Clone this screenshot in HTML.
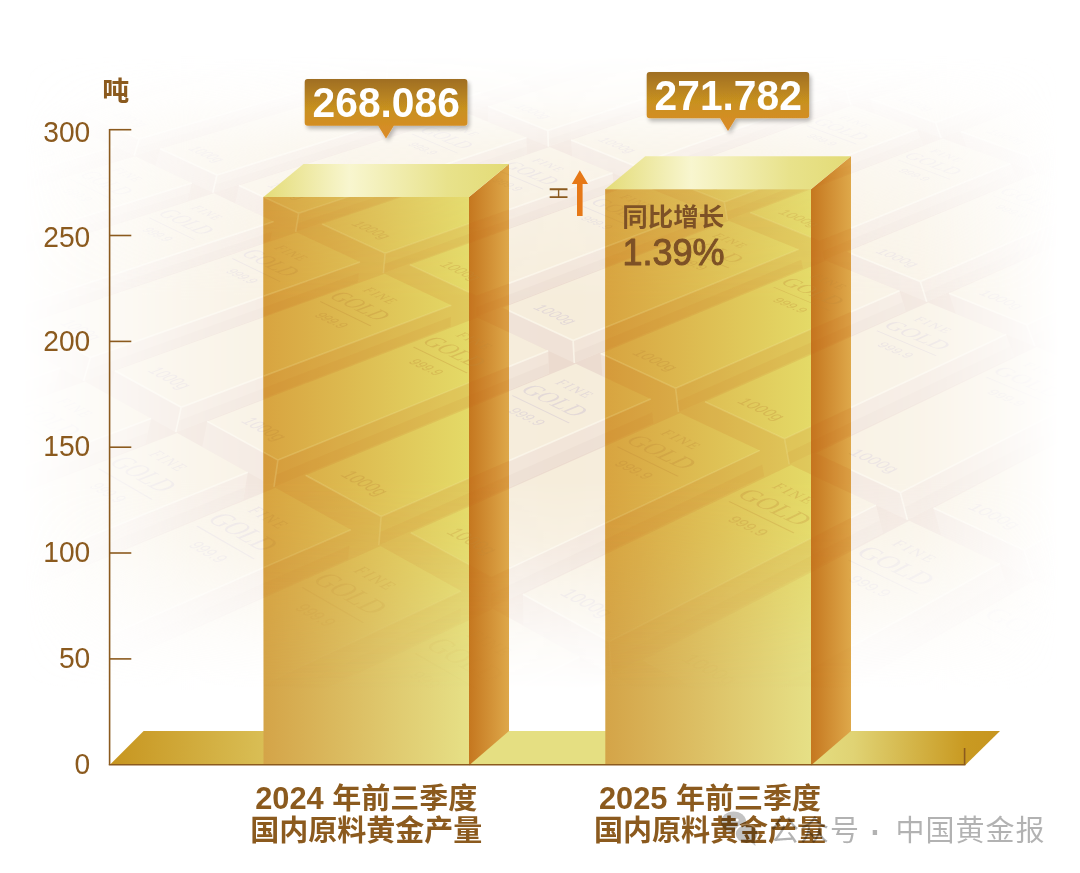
<!DOCTYPE html>
<html lang="zh-CN">
<head>
<meta charset="utf-8">
<title>国内原料黄金产量</title>
<style>
html,body{margin:0;padding:0;background:#fff;}
body{width:1080px;height:873px;overflow:hidden;}
svg{display:block;}
text{font-family:"Liberation Sans", "Noto Sans CJK SC", sans-serif;}
.b{font-weight:700;}
.sf{font-family:"Liberation Serif", serif;}
</style>
</head>
<body>
<svg width="1080" height="873" viewBox="0 0 1080 873">
<defs>
<linearGradient id="gFront" x1="0" y1="0" x2="1" y2="0">
<stop offset="0" stop-color="#d4a448"/><stop offset="1" stop-color="#e6e086"/>
</linearGradient>
<linearGradient id="gFrontM" x1="0" y1="0" x2="1" y2="0">
<stop offset="0" stop-color="#d8a440"/><stop offset="1" stop-color="#e4da67"/>
</linearGradient>
<linearGradient id="gSide" x1="0" y1="0" x2="1" y2="0">
<stop offset="0" stop-color="#c5771f"/><stop offset="1" stop-color="#dea84a"/>
</linearGradient>
<linearGradient id="gTop" x1="0" y1="0" x2="1" y2="0">
<stop offset="0" stop-color="#e4dc78"/><stop offset="0.35" stop-color="#f8f6cf"/><stop offset="0.75" stop-color="#e8e28b"/><stop offset="1" stop-color="#e3db76"/>
</linearGradient>
<linearGradient id="gFloor" gradientUnits="userSpaceOnUse" x1="110" y1="740" x2="1000" y2="756">
<stop offset="0" stop-color="#c7951f"/><stop offset="0.173" stop-color="#d9be55"/><stop offset="0.33" stop-color="#e5df82"/><stop offset="0.78" stop-color="#e5df82"/><stop offset="0.835" stop-color="#e0d374"/><stop offset="0.96" stop-color="#c99a22"/><stop offset="1" stop-color="#c7951f"/>
</linearGradient>
<linearGradient id="gTag" x1="0" y1="0" x2="0" y2="1">
<stop offset="0" stop-color="#9f6e22"/><stop offset="0.5" stop-color="#c8911f"/><stop offset="1" stop-color="#dc8b29"/>
</linearGradient>
<filter id="sh" x="-20%" y="-20%" width="140%" height="160%">
<feGaussianBlur in="SourceAlpha" stdDeviation="2.2"/>
<feOffset dx="1.5" dy="2.5" result="o"/>
<feComponentTransfer><feFuncA type="linear" slope="0.27"/></feComponentTransfer>
<feMerge><feMergeNode/><feMergeNode in="SourceGraphic"/></feMerge>
</filter>
<g id="phSides"><polygon points="-434.0,871.6 -17.6,690.2 -28.4,726.2 -455.6,916.0"/><polygon points="-329.8,963.5 91.4,765.1 82.6,804.1 -349.9,1012.1"/><polygon points="-347.0,427.4 -24.8,320.5 -33.4,342.8 -362.1,453.7"/><polygon points="-264.5,482.9 60.5,368.0 53.1,391.8 -278.5,511.0"/><polygon points="-176.3,542.2 151.2,418.5 145.2,443.9 -189.1,572.4"/><polygon points="-81.8,605.7 247.8,472.3 243.3,499.5 -93.2,638.3"/><polygon points="19.8,673.9 350.9,529.7 348.2,558.9 9.9,709.2"/><polygon points="129.1,747.4 461.2,591.0 460.4,622.4 121.2,785.6"/><polygon points="247.1,826.7 579.4,656.8 580.9,690.7 241.5,868.2"/><polygon points="375.0,912.7 706.4,727.5 710.6,764.1 372.1,957.9"/><polygon points="-292.3,148.0 -29.5,78.6 -36.7,93.8 -303.7,165.3"/><polygon points="-224.0,185.4 40.6,111.6 34.2,127.6 -234.8,203.7"/><polygon points="-151.9,224.9 114.3,146.4 108.8,163.2 -161.9,244.2"/><polygon points="-75.8,266.5 191.9,182.9 187.4,200.8 -84.8,287.2"/><polygon points="4.9,310.7 273.7,221.5 270.3,240.4 -3.1,332.6"/><polygon points="90.4,357.5 360.1,262.1 358.0,282.2 83.6,380.9"/><polygon points="181.2,407.2 451.4,305.2 450.7,326.5 175.8,432.2"/><polygon points="277.9,460.1 548.2,350.7 549.0,373.4 274.0,486.9"/><polygon points="381.1,516.5 650.8,399.0 653.3,423.3 378.9,545.2"/><polygon points="491.3,576.9 759.9,450.4 764.3,476.3 491.1,607.7"/><polygon points="609.3,641.5 876.0,505.1 882.7,532.8 611.5,674.7"/><polygon points="736.1,710.9 999.9,563.5 1009.1,593.2 740.9,746.7"/><polygon points="872.6,785.6 1132.4,625.8 1144.5,657.9 880.5,824.4"/><polygon points="1020.0,866.2 1274.4,692.7 1289.7,727.2 1031.5,908.5"/><polygon points="1179.6,953.6 1426.9,764.6 1446.0,801.9 1195.3,999.6"/><polygon points="-71.8,41.0 153.6,-15.5 149.3,-2.9 -79.2,55.2"/><polygon points="-4.9,72.1 221.4,12.3 217.9,25.6 -11.6,87.1"/><polygon points="65.3,104.7 292.3,41.5 289.6,55.4 59.4,120.5"/><polygon points="139.2,139.0 366.6,72.0 364.9,86.6 134.1,155.7"/><polygon points="216.9,175.1 444.6,104.0 443.9,119.4 212.8,192.7"/><polygon points="298.7,213.2 526.5,137.6 526.8,153.9 295.7,231.8"/><polygon points="385.1,253.3 612.6,172.9 614.1,190.1 383.4,273.1"/><polygon points="476.4,295.7 703.2,210.1 706.1,228.3 476.1,316.7"/><polygon points="573.1,340.6 798.7,249.3 803.1,268.6 574.3,363.0"/><polygon points="675.6,388.2 899.5,290.7 905.6,311.2 678.5,412.1"/><polygon points="784.5,438.8 1006.2,334.4 1014.1,356.2 789.3,464.3"/><polygon points="900.3,492.6 1119.1,380.8 1129.1,404.0 907.4,519.9"/><polygon points="1023.9,550.0 1238.8,429.9 1251.2,454.6 1033.5,579.3"/><polygon points="1155.9,611.4 1366.1,482.2 1381.0,508.6 1168.3,642.8"/><polygon points="388.0,65.7 584.6,7.7 585.6,20.6 386.5,80.1"/><polygon points="466.0,97.3 662.1,36.0 664.1,49.5 465.5,112.6"/><polygon points="547.8,130.5 743.2,65.7 746.3,79.9 548.4,146.6"/><polygon points="633.8,165.4 828.2,96.7 832.4,111.6 635.7,182.4"/><polygon points="724.3,202.1 917.3,129.2 922.9,145.0 727.5,220.1"/><polygon points="819.7,240.8 1010.8,163.4 1017.8,180.1 824.4,259.8"/><polygon points="920.3,281.6 1109.2,199.4 1117.8,216.9 926.7,301.8"/><polygon points="1026.7,324.8 1212.7,237.2 1223.0,255.8 1034.9,346.2"/><polygon points="1139.2,370.5 1321.9,277.0 1334.1,296.7 1149.5,393.3"/><polygon points="761.6,59.5 931.1,3.3 936.2,15.8 764.9,73.6"/><polygon points="846.4,90.2 1014.5,30.8 1020.7,44.0 850.9,105.0"/><polygon points="935.4,122.4 1101.6,59.6 1109.1,73.4 941.2,138.0"/><polygon points="1028.7,156.2 1192.8,89.8 1201.6,104.3 1035.9,172.6"/><polygon points="1126.8,191.7 1288.3,121.3 1298.6,136.6 1135.6,209.0"/><polygon points="1117.3,53.7 1262.0,-0.9 1270.8,11.2 1124.9,67.3"/></g>
<g id="phGaps"><polygon points="-445.7,895.8 -23.5,709.8 -28.4,726.2 -455.6,916.0"/><polygon points="-340.8,989.9 86.6,786.4 82.6,804.1 -349.9,1012.1"/><polygon points="-355.2,441.8 -29.5,332.7 -33.4,342.8 -362.1,453.7"/><polygon points="-272.1,498.3 56.5,381.0 53.1,391.8 -278.5,511.0"/><polygon points="-183.3,558.7 147.9,432.4 145.2,443.9 -189.1,572.4"/><polygon points="-88.0,623.5 245.4,487.1 243.3,499.5 -93.2,638.3"/><polygon points="14.4,693.1 349.4,545.6 348.2,558.9 9.9,709.2"/><polygon points="124.8,768.2 460.8,608.2 460.4,622.4 121.2,785.6"/><polygon points="244.0,849.3 580.2,675.3 580.9,690.7 241.5,868.2"/><polygon points="373.4,937.3 708.7,747.5 710.6,764.1 372.1,957.9"/><polygon points="-298.5,157.5 -33.4,86.9 -36.7,93.8 -303.7,165.3"/><polygon points="-229.9,195.4 37.1,120.4 34.2,127.6 -234.8,203.7"/><polygon points="-157.4,235.4 111.3,155.6 108.8,163.2 -161.9,244.2"/><polygon points="-80.7,277.8 189.5,192.7 187.4,200.8 -84.8,287.2"/><polygon points="0.5,322.7 271.9,231.8 270.3,240.4 -3.1,332.6"/><polygon points="86.7,370.2 358.9,273.1 358.0,282.2 83.6,380.9"/><polygon points="178.3,420.8 451.0,316.8 450.7,326.5 175.8,432.2"/><polygon points="275.8,474.7 548.6,363.1 549.0,373.4 274.0,486.9"/><polygon points="379.9,532.2 652.2,412.3 653.3,423.3 378.9,545.2"/><polygon points="491.2,593.7 762.3,464.5 764.3,476.3 491.1,607.7"/><polygon points="610.5,659.6 879.6,520.2 882.7,532.8 611.5,674.7"/><polygon points="738.7,730.4 1004.9,579.7 1009.1,593.2 740.9,746.7"/><polygon points="876.9,806.7 1139.0,643.3 1144.5,657.9 880.5,824.4"/><polygon points="1026.3,889.2 1282.7,711.5 1289.7,727.2 1031.5,908.5"/><polygon points="1188.2,978.6 1437.3,784.9 1446.0,801.9 1195.3,999.6"/><polygon points="-75.9,48.8 151.2,-8.6 149.3,-2.9 -79.2,55.2"/><polygon points="-8.6,80.3 219.4,19.6 217.9,25.6 -11.6,87.1"/><polygon points="62.1,113.4 290.8,49.1 289.6,55.4 59.4,120.5"/><polygon points="136.4,148.1 365.7,80.0 364.9,86.6 134.1,155.7"/><polygon points="214.6,184.8 444.2,112.4 443.9,119.4 212.8,192.7"/><polygon points="297.1,223.4 526.7,146.5 526.8,153.9 295.7,231.8"/><polygon points="384.2,264.1 613.4,182.3 614.1,190.1 383.4,273.1"/><polygon points="476.2,307.2 704.8,220.1 706.1,228.3 476.1,316.7"/><polygon points="573.7,352.8 801.1,259.8 803.1,268.6 574.3,363.0"/><polygon points="677.2,401.3 902.9,301.9 905.6,311.2 678.5,412.1"/><polygon points="787.1,452.7 1010.5,346.3 1014.1,356.2 789.3,464.3"/><polygon points="904.2,507.5 1124.5,393.4 1129.1,404.0 907.4,519.9"/><polygon points="1029.1,566.0 1245.6,443.4 1251.2,454.6 1033.5,579.3"/><polygon points="1162.7,628.5 1374.2,496.6 1381.0,508.6 1168.3,642.8"/><polygon points="387.2,73.6 585.2,14.7 585.6,20.6 386.5,80.1"/><polygon points="465.7,105.6 663.2,43.4 664.1,49.5 465.5,112.6"/><polygon points="548.1,139.3 744.9,73.4 746.3,79.9 548.4,146.6"/><polygon points="634.8,174.7 830.5,104.9 832.4,111.6 635.7,182.4"/><polygon points="726.1,211.9 920.3,137.9 922.9,145.0 727.5,220.1"/><polygon points="822.2,251.2 1014.7,172.5 1017.8,180.1 824.4,259.8"/><polygon points="923.8,292.7 1113.9,209.0 1117.8,216.9 926.7,301.8"/><polygon points="1031.1,336.5 1218.4,247.3 1223.0,255.8 1034.9,346.2"/><polygon points="1144.8,382.9 1328.5,287.8 1334.1,296.7 1149.5,393.3"/><polygon points="763.4,67.2 933.9,10.1 936.2,15.8 764.9,73.6"/><polygon points="848.9,98.3 1017.9,38.0 1020.7,44.0 850.9,105.0"/><polygon points="938.5,130.9 1105.7,67.2 1109.1,73.4 941.2,138.0"/><polygon points="1032.7,165.1 1197.6,97.7 1201.6,104.3 1035.9,172.6"/><polygon points="1131.6,201.1 1293.9,129.7 1298.6,136.6 1135.6,209.0"/><polygon points="1121.4,61.2 1266.8,5.7 1270.8,11.2 1124.9,67.3"/></g>
<g id="phEnds"><polygon points="-504.2,809.6 -434.0,871.6 -455.6,916.0 -526.7,851.3"/><polygon points="-406.2,896.1 -329.8,963.5 -349.9,1012.1 -427.4,941.6"/><polygon points="-403.6,389.4 -347.0,427.4 -362.1,453.7 -419.3,414.4"/><polygon points="-324.8,442.3 -264.5,482.9 -278.5,511.0 -339.6,469.1"/><polygon points="-240.8,498.8 -176.3,542.2 -189.1,572.4 -254.6,527.5"/><polygon points="-150.9,559.2 -81.8,605.7 -93.2,638.3 -163.4,590.1"/><polygon points="-54.6,624.0 19.8,673.9 9.9,709.2 -65.6,657.3"/><polygon points="49.0,693.6 129.1,747.4 121.2,785.6 39.7,729.6"/><polygon points="160.6,768.6 247.1,826.7 241.5,868.2 153.3,807.7"/><polygon points="281.2,849.7 375.0,912.7 372.1,957.9 276.3,892.2"/><polygon points="-339.6,122.2 -292.3,148.0 -303.7,165.3 -351.5,138.7"/><polygon points="-273.9,158.1 -224.0,185.4 -234.8,203.7 -285.1,175.7"/><polygon points="-204.6,196.0 -151.9,224.9 -161.9,244.2 -215.1,214.6"/><polygon points="-131.4,236.1 -75.8,266.5 -84.8,287.2 -141.1,255.8"/><polygon points="-54.0,278.4 4.9,310.7 -3.1,332.6 -62.8,299.4"/><polygon points="27.9,323.3 90.4,357.5 83.6,380.9 20.2,345.6"/><polygon points="114.8,370.8 181.2,407.2 175.8,432.2 108.4,394.7"/><polygon points="207.2,421.4 277.9,460.1 274.0,486.9 202.2,446.9"/><polygon points="305.6,475.3 381.1,516.5 378.9,545.2 302.1,502.5"/><polygon points="410.6,532.7 491.3,576.9 491.1,607.7 409.0,562.0"/><polygon points="522.9,594.2 609.3,641.5 611.5,674.7 523.4,625.6"/><polygon points="643.3,660.1 736.1,710.9 740.9,746.7 646.1,694.0"/><polygon points="772.7,730.8 872.6,785.6 880.5,824.4 778.3,767.5"/><polygon points="912.0,807.1 1020.0,866.2 1031.5,908.5 920.8,846.9"/><polygon points="1062.6,889.5 1179.6,953.6 1195.3,999.6 1075.2,932.8"/><polygon points="-118.3,19.4 -71.8,41.0 -79.2,55.2 -126.3,33.1"/><polygon points="-53.7,49.4 -4.9,72.1 -11.6,87.1 -61.0,63.8"/><polygon points="14.1,80.9 65.3,104.7 59.4,120.5 7.5,96.1"/><polygon points="85.3,114.0 139.2,139.0 134.1,155.7 79.6,130.0"/><polygon points="160.1,148.8 216.9,175.1 212.8,192.7 155.3,165.7"/><polygon points="238.9,185.4 298.7,213.2 295.7,231.8 235.1,203.3"/><polygon points="322.0,224.0 385.1,253.3 383.4,273.1 319.4,242.9"/><polygon points="409.7,264.7 476.4,295.7 476.1,316.7 408.3,284.8"/><polygon points="502.5,307.8 573.1,340.6 574.3,363.0 502.5,329.2"/><polygon points="600.7,353.4 675.6,388.2 678.5,412.1 602.3,376.2"/><polygon points="704.9,401.8 784.5,438.8 789.3,464.3 708.3,426.1"/><polygon points="815.6,453.3 900.3,492.6 907.4,519.9 821.1,479.2"/><polygon points="933.5,508.1 1023.9,550.0 1033.5,579.3 941.3,535.8"/><polygon points="1059.3,566.5 1155.9,611.4 1168.3,642.8 1069.6,596.3"/><polygon points="333.8,43.7 388.0,65.7 386.5,80.1 331.6,57.6"/><polygon points="409.1,74.2 466.0,97.3 465.5,112.6 407.9,88.9"/><polygon points="488.1,106.3 547.8,130.5 548.4,146.6 487.9,121.7"/><polygon points="571.0,139.9 633.8,165.4 635.7,182.4 572.0,156.3"/><polygon points="658.2,175.3 724.3,202.1 727.5,220.1 660.4,192.6"/><polygon points="750.0,212.6 819.7,240.8 824.4,259.8 753.6,230.8"/><polygon points="846.8,251.8 920.3,281.6 926.7,301.8 852.0,271.2"/><polygon points="949.0,293.3 1026.7,324.8 1034.9,346.2 955.8,313.8"/><polygon points="1057.0,337.1 1139.2,370.5 1149.5,393.3 1065.7,358.9"/><polygon points="702.5,38.2 761.6,59.5 764.9,73.6 705.0,51.7"/><polygon points="784.5,67.8 846.4,90.2 850.9,105.0 788.2,82.1"/><polygon points="870.5,98.9 935.4,122.4 941.2,138.0 875.3,113.9"/><polygon points="960.6,131.5 1028.7,156.2 1035.9,172.6 966.8,147.3"/><polygon points="1055.2,165.8 1126.8,191.7 1135.6,209.0 1062.8,182.4"/><polygon points="1053.9,32.9 1117.3,53.7 1124.9,67.3 1060.6,46.1"/></g>
<g id="phTops"><polygon points="-504.2,809.6 -91.7,639.3 -17.6,690.2 -434.0,871.6"/><polygon points="-406.2,896.1 11.5,710.3 91.4,765.1 -329.8,963.5"/><polygon points="-403.6,389.4 -83.6,287.8 -24.8,320.5 -347.0,427.4"/><polygon points="-324.8,442.3 -1.9,333.3 60.5,368.0 -264.5,482.9"/><polygon points="-240.8,498.8 84.9,381.6 151.2,418.5 -176.3,542.2"/><polygon points="-150.9,559.2 177.2,433.0 247.8,472.3 -81.8,605.7"/><polygon points="-54.6,624.0 275.5,487.7 350.9,529.7 19.8,673.9"/><polygon points="49.0,693.6 380.5,546.1 461.2,591.0 129.1,747.4"/><polygon points="160.6,768.6 492.8,608.7 579.4,656.8 247.1,826.7"/><polygon points="281.2,849.7 613.4,675.7 706.4,727.5 375.0,912.7"/><polygon points="-339.6,122.2 -78.2,55.7 -29.5,78.6 -292.3,148.0"/><polygon points="-273.9,158.1 -10.6,87.5 40.6,111.6 -224.0,185.4"/><polygon points="-204.6,196.0 60.5,121.0 114.3,146.4 -151.9,224.9"/><polygon points="-131.4,236.1 135.2,156.2 191.9,182.9 -75.8,266.5"/><polygon points="-54.0,278.4 214.0,193.3 273.7,221.5 4.9,310.7"/><polygon points="27.9,323.3 297.0,232.4 360.1,262.1 90.4,357.5"/><polygon points="114.8,370.8 384.7,273.7 451.4,305.2 181.2,407.2"/><polygon points="207.2,421.4 477.5,317.4 548.2,350.7 277.9,460.1"/><polygon points="305.6,475.3 575.8,363.7 650.8,399.0 381.1,516.5"/><polygon points="410.6,532.7 680.1,412.9 759.9,450.4 491.3,576.9"/><polygon points="522.9,594.2 791.1,465.1 876.0,505.1 609.3,641.5"/><polygon points="643.3,660.1 909.3,520.8 999.9,563.5 736.1,710.9"/><polygon points="772.7,730.8 1035.4,580.2 1132.4,625.8 872.6,785.6"/><polygon points="912.0,807.1 1170.4,643.8 1274.4,692.7 1020.0,866.2"/><polygon points="1062.6,889.5 1315.2,712.0 1426.9,764.6 1179.6,953.6"/><polygon points="-118.3,19.4 106.3,-34.9 153.6,-15.5 -71.8,41.0"/><polygon points="-53.7,49.4 171.9,-7.9 221.4,12.3 -4.9,72.1"/><polygon points="14.1,80.9 240.5,20.2 292.3,41.5 65.3,104.7"/><polygon points="85.3,114.0 312.4,49.7 366.6,72.0 139.2,139.0"/><polygon points="160.1,148.8 387.7,80.6 444.6,104.0 216.9,175.1"/><polygon points="238.9,185.4 466.7,113.0 526.5,137.6 298.7,213.2"/><polygon points="322.0,224.0 549.7,147.1 612.6,172.9 385.1,253.3"/><polygon points="409.7,264.7 637.0,182.9 703.2,210.1 476.4,295.7"/><polygon points="502.5,307.8 728.9,220.7 798.7,249.3 573.1,340.6"/><polygon points="600.7,353.4 825.9,260.5 899.5,290.7 675.6,388.2"/><polygon points="704.9,401.8 928.3,302.5 1006.2,334.4 784.5,438.8"/><polygon points="815.6,453.3 1036.6,346.9 1119.1,380.8 900.3,492.6"/><polygon points="933.5,508.1 1151.3,394.0 1238.8,429.9 1023.9,550.0"/><polygon points="1059.3,566.5 1273.0,444.0 1366.1,482.2 1155.9,611.4"/><polygon points="333.8,43.7 530.6,-12.0 584.6,7.7 388.0,65.7"/><polygon points="409.1,74.2 605.6,15.4 662.1,36.0 466.0,97.3"/><polygon points="488.1,106.3 684.0,44.0 743.2,65.7 547.8,130.5"/><polygon points="571.0,139.9 766.2,74.0 828.2,96.7 633.8,165.4"/><polygon points="658.2,175.3 852.2,105.5 917.3,129.2 724.3,202.1"/><polygon points="750.0,212.6 942.5,138.5 1010.8,163.4 819.7,240.8"/><polygon points="846.8,251.8 1037.4,173.1 1109.2,199.4 920.3,281.6"/><polygon points="949.0,293.3 1137.1,209.6 1212.7,237.2 1026.7,324.8"/><polygon points="1057.0,337.1 1242.2,247.9 1321.9,277.0 1139.2,370.5"/><polygon points="702.5,38.2 872.9,-15.9 931.1,3.3 761.6,59.5"/><polygon points="784.5,67.8 953.7,10.7 1014.5,30.8 846.4,90.2"/><polygon points="870.5,98.9 1038.0,38.6 1101.6,59.6 935.4,122.4"/><polygon points="960.6,131.5 1126.3,67.8 1192.8,89.8 1028.7,156.2"/><polygon points="1055.2,165.8 1218.6,98.3 1288.3,121.3 1126.8,191.7"/><polygon points="1053.9,32.9 1200.0,-19.7 1262.0,-0.9 1117.3,53.7"/></g>
<g id="phHl" fill="none" stroke-linejoin="round"><path d="M-504.2,809.6 L-434.0,871.6 L-17.6,690.2 M-434.0,871.6 L-455.6,916.0"/><path d="M-406.2,896.1 L-329.8,963.5 L91.4,765.1 M-329.8,963.5 L-349.9,1012.1"/><path d="M-403.6,389.4 L-347.0,427.4 L-24.8,320.5 M-347.0,427.4 L-362.1,453.7"/><path d="M-324.8,442.3 L-264.5,482.9 L60.5,368.0 M-264.5,482.9 L-278.5,511.0"/><path d="M-240.8,498.8 L-176.3,542.2 L151.2,418.5 M-176.3,542.2 L-189.1,572.4"/><path d="M-150.9,559.2 L-81.8,605.7 L247.8,472.3 M-81.8,605.7 L-93.2,638.3"/><path d="M-54.6,624.0 L19.8,673.9 L350.9,529.7 M19.8,673.9 L9.9,709.2"/><path d="M49.0,693.6 L129.1,747.4 L461.2,591.0 M129.1,747.4 L121.2,785.6"/><path d="M160.6,768.6 L247.1,826.7 L579.4,656.8 M247.1,826.7 L241.5,868.2"/><path d="M281.2,849.7 L375.0,912.7 L706.4,727.5 M375.0,912.7 L372.1,957.9"/><path d="M-339.6,122.2 L-292.3,148.0 L-29.5,78.6 M-292.3,148.0 L-303.7,165.3"/><path d="M-273.9,158.1 L-224.0,185.4 L40.6,111.6 M-224.0,185.4 L-234.8,203.7"/><path d="M-204.6,196.0 L-151.9,224.9 L114.3,146.4 M-151.9,224.9 L-161.9,244.2"/><path d="M-131.4,236.1 L-75.8,266.5 L191.9,182.9 M-75.8,266.5 L-84.8,287.2"/><path d="M-54.0,278.4 L4.9,310.7 L273.7,221.5 M4.9,310.7 L-3.1,332.6"/><path d="M27.9,323.3 L90.4,357.5 L360.1,262.1 M90.4,357.5 L83.6,380.9"/><path d="M114.8,370.8 L181.2,407.2 L451.4,305.2 M181.2,407.2 L175.8,432.2"/><path d="M207.2,421.4 L277.9,460.1 L548.2,350.7 M277.9,460.1 L274.0,486.9"/><path d="M305.6,475.3 L381.1,516.5 L650.8,399.0 M381.1,516.5 L378.9,545.2"/><path d="M410.6,532.7 L491.3,576.9 L759.9,450.4 M491.3,576.9 L491.1,607.7"/><path d="M522.9,594.2 L609.3,641.5 L876.0,505.1 M609.3,641.5 L611.5,674.7"/><path d="M643.3,660.1 L736.1,710.9 L999.9,563.5 M736.1,710.9 L740.9,746.7"/><path d="M772.7,730.8 L872.6,785.6 L1132.4,625.8 M872.6,785.6 L880.5,824.4"/><path d="M912.0,807.1 L1020.0,866.2 L1274.4,692.7 M1020.0,866.2 L1031.5,908.5"/><path d="M1062.6,889.5 L1179.6,953.6 L1426.9,764.6 M1179.6,953.6 L1195.3,999.6"/><path d="M-118.3,19.4 L-71.8,41.0 L153.6,-15.5 M-71.8,41.0 L-79.2,55.2"/><path d="M-53.7,49.4 L-4.9,72.1 L221.4,12.3 M-4.9,72.1 L-11.6,87.1"/><path d="M14.1,80.9 L65.3,104.7 L292.3,41.5 M65.3,104.7 L59.4,120.5"/><path d="M85.3,114.0 L139.2,139.0 L366.6,72.0 M139.2,139.0 L134.1,155.7"/><path d="M160.1,148.8 L216.9,175.1 L444.6,104.0 M216.9,175.1 L212.8,192.7"/><path d="M238.9,185.4 L298.7,213.2 L526.5,137.6 M298.7,213.2 L295.7,231.8"/><path d="M322.0,224.0 L385.1,253.3 L612.6,172.9 M385.1,253.3 L383.4,273.1"/><path d="M409.7,264.7 L476.4,295.7 L703.2,210.1 M476.4,295.7 L476.1,316.7"/><path d="M502.5,307.8 L573.1,340.6 L798.7,249.3 M573.1,340.6 L574.3,363.0"/><path d="M600.7,353.4 L675.6,388.2 L899.5,290.7 M675.6,388.2 L678.5,412.1"/><path d="M704.9,401.8 L784.5,438.8 L1006.2,334.4 M784.5,438.8 L789.3,464.3"/><path d="M815.6,453.3 L900.3,492.6 L1119.1,380.8 M900.3,492.6 L907.4,519.9"/><path d="M933.5,508.1 L1023.9,550.0 L1238.8,429.9 M1023.9,550.0 L1033.5,579.3"/><path d="M1059.3,566.5 L1155.9,611.4 L1366.1,482.2 M1155.9,611.4 L1168.3,642.8"/><path d="M333.8,43.7 L388.0,65.7 L584.6,7.7 M388.0,65.7 L386.5,80.1"/><path d="M409.1,74.2 L466.0,97.3 L662.1,36.0 M466.0,97.3 L465.5,112.6"/><path d="M488.1,106.3 L547.8,130.5 L743.2,65.7 M547.8,130.5 L548.4,146.6"/><path d="M571.0,139.9 L633.8,165.4 L828.2,96.7 M633.8,165.4 L635.7,182.4"/><path d="M658.2,175.3 L724.3,202.1 L917.3,129.2 M724.3,202.1 L727.5,220.1"/><path d="M750.0,212.6 L819.7,240.8 L1010.8,163.4 M819.7,240.8 L824.4,259.8"/><path d="M846.8,251.8 L920.3,281.6 L1109.2,199.4 M920.3,281.6 L926.7,301.8"/><path d="M949.0,293.3 L1026.7,324.8 L1212.7,237.2 M1026.7,324.8 L1034.9,346.2"/><path d="M1057.0,337.1 L1139.2,370.5 L1321.9,277.0 M1139.2,370.5 L1149.5,393.3"/><path d="M702.5,38.2 L761.6,59.5 L931.1,3.3 M761.6,59.5 L764.9,73.6"/><path d="M784.5,67.8 L846.4,90.2 L1014.5,30.8 M846.4,90.2 L850.9,105.0"/><path d="M870.5,98.9 L935.4,122.4 L1101.6,59.6 M935.4,122.4 L941.2,138.0"/><path d="M960.6,131.5 L1028.7,156.2 L1192.8,89.8 M1028.7,156.2 L1035.9,172.6"/><path d="M1055.2,165.8 L1126.8,191.7 L1288.3,121.3 M1126.8,191.7 L1135.6,209.0"/><path d="M1053.9,32.9 L1117.3,53.7 L1262.0,-0.9 M1117.3,53.7 L1124.9,67.3"/></g>
<g id="phTxt" stroke-width="0"><text transform="matrix(0.9724,0.8367,-2.1424,0.9062,-432.5,820.4)" font-size="13.4" text-anchor="middle" y="4.8">1000g</text><g transform="matrix(1.0100,0.7265,-1.8373,0.7757,-139.7,693.6)" text-anchor="middle"><text class="sf" font-size="11.5" x="-3" y="-15.6" letter-spacing="1.6">FINE</text><text class="sf" font-size="19.5" y="6.4">GOLD</text><path d="M-24.5,14.2 H30.6" stroke-width="0.9" fill="none"/><text font-size="11.6" x="5" y="31.2">999.9</text></g><text transform="matrix(1.0566,0.9091,-2.1766,0.9933,-331.1,907.6)" font-size="13.4" text-anchor="middle" y="4.8">1000g</text><g transform="matrix(1.0905,0.7844,-1.8551,0.8449,-34.7,769.1)" text-anchor="middle"><text class="sf" font-size="11.5" x="-3" y="-15.6" letter-spacing="1.6">FINE</text><text class="sf" font-size="19.5" y="6.4">GOLD</text><path d="M-24.5,14.2 H30.6" stroke-width="0.9" fill="none"/><text font-size="11.6" x="5" y="31.2">999.9</text></g><text transform="matrix(0.7823,0.5162,-1.6291,0.5277,-347.6,396.6)" font-size="13.4" text-anchor="middle" y="4.8">1000g</text><g transform="matrix(0.8034,0.4634,-1.4444,0.4672,-121.3,321.5)" text-anchor="middle"><text class="sf" font-size="11.5" x="-3" y="-15.6" letter-spacing="1.6">FINE</text><text class="sf" font-size="19.5" y="6.4">GOLD</text><path d="M-24.5,14.2 H30.6" stroke-width="0.9" fill="none"/><text font-size="11.6" x="5" y="31.2">999.9</text></g><text transform="matrix(0.8342,0.5504,-1.6476,0.5678,-266.8,449.9)" font-size="13.4" text-anchor="middle" y="4.8">1000g</text><g transform="matrix(0.8534,0.4922,-1.4552,0.5008,-38.5,369.3)" text-anchor="middle"><text class="sf" font-size="11.5" x="-3" y="-15.6" letter-spacing="1.6">FINE</text><text class="sf" font-size="19.5" y="6.4">GOLD</text><path d="M-24.5,14.2 H30.6" stroke-width="0.9" fill="none"/><text font-size="11.6" x="5" y="31.2">999.9</text></g><text transform="matrix(0.8914,0.5882,-1.6648,0.6123,-180.6,506.8)" font-size="13.4" text-anchor="middle" y="4.8">1000g</text><g transform="matrix(0.9082,0.5238,-1.4646,0.5377,49.6,420.0)" text-anchor="middle"><text class="sf" font-size="11.5" x="-3" y="-15.6" letter-spacing="1.6">FINE</text><text class="sf" font-size="19.5" y="6.4">GOLD</text><path d="M-24.5,14.2 H30.6" stroke-width="0.9" fill="none"/><text font-size="11.6" x="5" y="31.2">999.9</text></g><text transform="matrix(0.9547,0.6299,-1.6805,0.6616,-88.3,567.7)" font-size="13.4" text-anchor="middle" y="4.8">1000g</text><g transform="matrix(0.9684,0.5586,-1.4720,0.5785,143.3,474.1)" text-anchor="middle"><text class="sf" font-size="11.5" x="-3" y="-15.6" letter-spacing="1.6">FINE</text><text class="sf" font-size="19.5" y="6.4">GOLD</text><path d="M-24.5,14.2 H30.6" stroke-width="0.9" fill="none"/><text font-size="11.6" x="5" y="31.2">999.9</text></g><text transform="matrix(1.0249,0.6763,-1.6941,0.7166,10.6,633.0)" font-size="13.4" text-anchor="middle" y="4.8">1000g</text><g transform="matrix(1.0348,0.5969,-1.4772,0.6237,243.4,531.9)" text-anchor="middle"><text class="sf" font-size="11.5" x="-3" y="-15.6" letter-spacing="1.6">FINE</text><text class="sf" font-size="19.5" y="6.4">GOLD</text><path d="M-24.5,14.2 H30.6" stroke-width="0.9" fill="none"/><text font-size="11.6" x="5" y="31.2">999.9</text></g><text transform="matrix(1.1032,0.7280,-1.7052,0.7781,116.9,703.1)" font-size="13.4" text-anchor="middle" y="4.8">1000g</text><g transform="matrix(1.1083,0.6393,-1.4795,0.6739,350.5,593.6)" text-anchor="middle"><text class="sf" font-size="11.5" x="-3" y="-15.6" letter-spacing="1.6">FINE</text><text class="sf" font-size="19.5" y="6.4">GOLD</text><path d="M-24.5,14.2 H30.6" stroke-width="0.9" fill="none"/><text font-size="11.6" x="5" y="31.2">999.9</text></g><text transform="matrix(1.1909,0.7858,-1.7128,0.8473,231.5,778.7)" font-size="13.4" text-anchor="middle" y="4.8">1000g</text><g transform="matrix(1.1900,0.6864,-1.4783,0.7298,465.4,659.9)" text-anchor="middle"><text class="sf" font-size="11.5" x="-3" y="-15.6" letter-spacing="1.6">FINE</text><text class="sf" font-size="19.5" y="6.4">GOLD</text><path d="M-24.5,14.2 H30.6" stroke-width="0.9" fill="none"/><text font-size="11.6" x="5" y="31.2">999.9</text></g><text transform="matrix(1.2894,0.8508,-1.7160,0.9253,355.5,860.5)" font-size="13.4" text-anchor="middle" y="4.8">1000g</text><g transform="matrix(1.2810,0.7389,-1.4728,0.7924,588.8,731.1)" text-anchor="middle"><text class="sf" font-size="11.5" x="-3" y="-15.6" letter-spacing="1.6">FINE</text><text class="sf" font-size="19.5" y="6.4">GOLD</text><path d="M-24.5,14.2 H30.6" stroke-width="0.9" fill="none"/><text font-size="11.6" x="5" y="31.2">999.9</text></g><text transform="matrix(0.6535,0.3525,-1.3136,0.3399,-293.7,127.5)" font-size="13.4" text-anchor="middle" y="4.8">1000g</text><g transform="matrix(0.6670,0.3233,-1.1899,0.3075,-109.3,78.5)" text-anchor="middle"><text class="sf" font-size="11.5" x="-3" y="-15.6" letter-spacing="1.6">FINE</text><text class="sf" font-size="19.5" y="6.4">GOLD</text><path d="M-24.5,14.2 H30.6" stroke-width="0.9" fill="none"/><text font-size="11.6" x="5" y="31.2">999.9</text></g><text transform="matrix(0.6886,0.3715,-1.3250,0.3616,-226.6,163.6)" font-size="13.4" text-anchor="middle" y="4.8">1000g</text><g transform="matrix(0.7010,0.3398,-1.1972,0.3262,-40.9,111.6)" text-anchor="middle"><text class="sf" font-size="11.5" x="-3" y="-15.6" letter-spacing="1.6">FINE</text><text class="sf" font-size="19.5" y="6.4">GOLD</text><path d="M-24.5,14.2 H30.6" stroke-width="0.9" fill="none"/><text font-size="11.6" x="5" y="31.2">999.9</text></g><text transform="matrix(0.7267,0.3920,-1.3357,0.3851,-155.9,201.8)" font-size="13.4" text-anchor="middle" y="4.8">1000g</text><g transform="matrix(0.7377,0.3576,-1.2036,0.3465,31.0,146.5)" text-anchor="middle"><text class="sf" font-size="11.5" x="-3" y="-15.6" letter-spacing="1.6">FINE</text><text class="sf" font-size="19.5" y="6.4">GOLD</text><path d="M-24.5,14.2 H30.6" stroke-width="0.9" fill="none"/><text font-size="11.6" x="5" y="31.2">999.9</text></g><text transform="matrix(0.7679,0.4142,-1.3456,0.4107,-81.2,242.1)" font-size="13.4" text-anchor="middle" y="4.8">1000g</text><g transform="matrix(0.7773,0.3768,-1.2091,0.3685,106.7,183.2)" text-anchor="middle"><text class="sf" font-size="11.5" x="-3" y="-15.6" letter-spacing="1.6">FINE</text><text class="sf" font-size="19.5" y="6.4">GOLD</text><path d="M-24.5,14.2 H30.6" stroke-width="0.9" fill="none"/><text font-size="11.6" x="5" y="31.2">999.9</text></g><text transform="matrix(0.8128,0.4384,-1.3544,0.4387,-2.2,284.7)" font-size="13.4" text-anchor="middle" y="4.8">1000g</text><g transform="matrix(0.8202,0.3976,-1.2134,0.3925,186.6,221.9)" text-anchor="middle"><text class="sf" font-size="11.5" x="-3" y="-15.6" letter-spacing="1.6">FINE</text><text class="sf" font-size="19.5" y="6.4">GOLD</text><path d="M-24.5,14.2 H30.6" stroke-width="0.9" fill="none"/><text font-size="11.6" x="5" y="31.2">999.9</text></g><text transform="matrix(0.8617,0.4648,-1.3618,0.4694,81.5,329.9)" font-size="13.4" text-anchor="middle" y="4.8">1000g</text><g transform="matrix(0.8668,0.4202,-1.2163,0.4185,270.9,262.8)" text-anchor="middle"><text class="sf" font-size="11.5" x="-3" y="-15.6" letter-spacing="1.6">FINE</text><text class="sf" font-size="19.5" y="6.4">GOLD</text><path d="M-24.5,14.2 H30.6" stroke-width="0.9" fill="none"/><text font-size="11.6" x="5" y="31.2">999.9</text></g><text transform="matrix(0.9152,0.4937,-1.3677,0.5030,170.3,377.8)" font-size="13.4" text-anchor="middle" y="4.8">1000g</text><g transform="matrix(0.9175,0.4447,-1.2175,0.4470,360.1,306.0)" text-anchor="middle"><text class="sf" font-size="11.5" x="-3" y="-15.6" letter-spacing="1.6">FINE</text><text class="sf" font-size="19.5" y="6.4">GOLD</text><path d="M-24.5,14.2 H30.6" stroke-width="0.9" fill="none"/><text font-size="11.6" x="5" y="31.2">999.9</text></g><text transform="matrix(0.9738,0.5253,-1.3716,0.5400,264.7,428.7)" font-size="13.4" text-anchor="middle" y="4.8">1000g</text><g transform="matrix(0.9727,0.4715,-1.2167,0.4782,454.6,351.8)" text-anchor="middle"><text class="sf" font-size="11.5" x="-3" y="-15.6" letter-spacing="1.6">FINE</text><text class="sf" font-size="19.5" y="6.4">GOLD</text><path d="M-24.5,14.2 H30.6" stroke-width="0.9" fill="none"/><text font-size="11.6" x="5" y="31.2">999.9</text></g><text transform="matrix(1.0382,0.5600,-1.3732,0.5808,365.3,482.9)" font-size="13.4" text-anchor="middle" y="4.8">1000g</text><g transform="matrix(1.0331,0.5008,-1.2135,0.5123,554.8,400.4)" text-anchor="middle"><text class="sf" font-size="11.5" x="-3" y="-15.6" letter-spacing="1.6">FINE</text><text class="sf" font-size="19.5" y="6.4">GOLD</text><path d="M-24.5,14.2 H30.6" stroke-width="0.9" fill="none"/><text font-size="11.6" x="5" y="31.2">999.9</text></g><text transform="matrix(1.1092,0.5983,-1.3718,0.6260,472.6,540.8)" font-size="13.4" text-anchor="middle" y="4.8">1000g</text><g transform="matrix(1.0993,0.5329,-1.2075,0.5500,661.4,452.1)" text-anchor="middle"><text class="sf" font-size="11.5" x="-3" y="-15.6" letter-spacing="1.6">FINE</text><text class="sf" font-size="19.5" y="6.4">GOLD</text><path d="M-24.5,14.2 H30.6" stroke-width="0.9" fill="none"/><text font-size="11.6" x="5" y="31.2">999.9</text></g><text transform="matrix(1.1878,0.6407,-1.3669,0.6762,587.4,602.7)" font-size="13.4" text-anchor="middle" y="4.8">1000g</text><g transform="matrix(1.1720,0.5682,-1.1981,0.5915,774.9,507.1)" text-anchor="middle"><text class="sf" font-size="11.5" x="-3" y="-15.6" letter-spacing="1.6">FINE</text><text class="sf" font-size="19.5" y="6.4">GOLD</text><path d="M-24.5,14.2 H30.6" stroke-width="0.9" fill="none"/><text font-size="11.6" x="5" y="31.2">999.9</text></g><text transform="matrix(1.2750,0.6878,-1.3578,0.7321,710.4,669.1)" font-size="13.4" text-anchor="middle" y="4.8">1000g</text><g transform="matrix(1.2523,0.6070,-1.1847,0.6374,896.0,565.8)" text-anchor="middle"><text class="sf" font-size="11.5" x="-3" y="-15.6" letter-spacing="1.6">FINE</text><text class="sf" font-size="19.5" y="6.4">GOLD</text><path d="M-24.5,14.2 H30.6" stroke-width="0.9" fill="none"/><text font-size="11.6" x="5" y="31.2">999.9</text></g><text transform="matrix(1.3722,0.7402,-1.3434,0.7947,842.7,740.5)" font-size="13.4" text-anchor="middle" y="4.8">1000g</text><g transform="matrix(1.3410,0.6501,-1.1665,0.6884,1025.6,628.6)" text-anchor="middle"><text class="sf" font-size="11.5" x="-3" y="-15.6" letter-spacing="1.6">FINE</text><text class="sf" font-size="19.5" y="6.4">GOLD</text><path d="M-24.5,14.2 H30.6" stroke-width="0.9" fill="none"/><text font-size="11.6" x="5" y="31.2">999.9</text></g><text transform="matrix(1.4810,0.7989,-1.3226,0.8650,985.3,817.4)" font-size="13.4" text-anchor="middle" y="4.8">1000g</text><g transform="matrix(1.4396,0.6978,-1.1426,0.7453,1164.6,696.0)" text-anchor="middle"><text class="sf" font-size="11.5" x="-3" y="-15.6" letter-spacing="1.6">FINE</text><text class="sf" font-size="19.5" y="6.4">GOLD</text><path d="M-24.5,14.2 H30.6" stroke-width="0.9" fill="none"/><text font-size="11.6" x="5" y="31.2">999.9</text></g><text transform="matrix(1.6032,0.8648,-1.2940,0.9442,1139.3,900.5)" font-size="13.4" text-anchor="middle" y="4.8">1000g</text><g transform="matrix(1.5494,0.7511,-1.1117,0.8089,1313.9,768.4)" text-anchor="middle"><text class="sf" font-size="11.5" x="-3" y="-15.6" letter-spacing="1.6">FINE</text><text class="sf" font-size="19.5" y="6.4">GOLD</text><path d="M-24.5,14.2 H30.6" stroke-width="0.9" fill="none"/><text font-size="11.6" x="5" y="31.2">999.9</text></g><text transform="matrix(0.6423,0.2949,-1.1220,0.2758,-76.3,24.0)" font-size="13.4" text-anchor="middle" y="4.8">1000g</text><g transform="matrix(0.6491,0.2729,-1.0257,0.2518,81.7,-15.9)" text-anchor="middle"><text class="sf" font-size="11.5" x="-3" y="-15.6" letter-spacing="1.6">FINE</text><text class="sf" font-size="19.5" y="6.4">GOLD</text><path d="M-24.5,14.2 H30.6" stroke-width="0.9" fill="none"/><text font-size="11.6" x="5" y="31.2">999.9</text></g><text transform="matrix(0.6734,0.3092,-1.1281,0.2919,-10.6,54.2)" font-size="13.4" text-anchor="middle" y="4.8">1000g</text><g transform="matrix(0.6791,0.2855,-1.0292,0.2660,148.1,12.0)" text-anchor="middle"><text class="sf" font-size="11.5" x="-3" y="-15.6" letter-spacing="1.6">FINE</text><text class="sf" font-size="19.5" y="6.4">GOLD</text><path d="M-24.5,14.2 H30.6" stroke-width="0.9" fill="none"/><text font-size="11.6" x="5" y="31.2">999.9</text></g><text transform="matrix(0.7068,0.3245,-1.1335,0.3093,58.4,85.9)" font-size="13.4" text-anchor="middle" y="4.8">1000g</text><g transform="matrix(0.7112,0.2990,-1.0318,0.2812,217.6,41.2)" text-anchor="middle"><text class="sf" font-size="11.5" x="-3" y="-15.6" letter-spacing="1.6">FINE</text><text class="sf" font-size="19.5" y="6.4">GOLD</text><path d="M-24.5,14.2 H30.6" stroke-width="0.9" fill="none"/><text font-size="11.6" x="5" y="31.2">999.9</text></g><text transform="matrix(0.7428,0.3410,-1.1380,0.3281,130.9,119.1)" font-size="13.4" text-anchor="middle" y="4.8">1000g</text><g transform="matrix(0.7457,0.3135,-1.0336,0.2976,290.4,71.8)" text-anchor="middle"><text class="sf" font-size="11.5" x="-3" y="-15.6" letter-spacing="1.6">FINE</text><text class="sf" font-size="19.5" y="6.4">GOLD</text><path d="M-24.5,14.2 H30.6" stroke-width="0.9" fill="none"/><text font-size="11.6" x="5" y="31.2">999.9</text></g><text transform="matrix(0.7816,0.3588,-1.1414,0.3484,207.1,154.1)" font-size="13.4" text-anchor="middle" y="4.8">1000g</text><g transform="matrix(0.7827,0.3291,-1.0342,0.3152,366.8,103.9)" text-anchor="middle"><text class="sf" font-size="11.5" x="-3" y="-15.6" letter-spacing="1.6">FINE</text><text class="sf" font-size="19.5" y="6.4">GOLD</text><path d="M-24.5,14.2 H30.6" stroke-width="0.9" fill="none"/><text font-size="11.6" x="5" y="31.2">999.9</text></g><text transform="matrix(0.8235,0.3781,-1.1437,0.3705,287.3,191.0)" font-size="13.4" text-anchor="middle" y="4.8">1000g</text><g transform="matrix(0.8225,0.3458,-1.0337,0.3343,447.0,137.7)" text-anchor="middle"><text class="sf" font-size="11.5" x="-3" y="-15.6" letter-spacing="1.6">FINE</text><text class="sf" font-size="19.5" y="6.4">GOLD</text><path d="M-24.5,14.2 H30.6" stroke-width="0.9" fill="none"/><text font-size="11.6" x="5" y="31.2">999.9</text></g><text transform="matrix(0.8689,0.3989,-1.1445,0.3945,371.9,229.8)" font-size="13.4" text-anchor="middle" y="4.8">1000g</text><g transform="matrix(0.8655,0.3639,-1.0317,0.3550,531.4,173.1)" text-anchor="middle"><text class="sf" font-size="11.5" x="-3" y="-15.6" letter-spacing="1.6">FINE</text><text class="sf" font-size="19.5" y="6.4">GOLD</text><path d="M-24.5,14.2 H30.6" stroke-width="0.9" fill="none"/><text font-size="11.6" x="5" y="31.2">999.9</text></g><text transform="matrix(0.9181,0.4215,-1.1436,0.4206,461.2,270.8)" font-size="13.4" text-anchor="middle" y="4.8">1000g</text><g transform="matrix(0.9120,0.3834,-1.0280,0.3774,620.3,210.5)" text-anchor="middle"><text class="sf" font-size="11.5" x="-3" y="-15.6" letter-spacing="1.6">FINE</text><text class="sf" font-size="19.5" y="6.4">GOLD</text><path d="M-24.5,14.2 H30.6" stroke-width="0.9" fill="none"/><text font-size="11.6" x="5" y="31.2">999.9</text></g><text transform="matrix(0.9716,0.4461,-1.1407,0.4491,555.6,314.2)" font-size="13.4" text-anchor="middle" y="4.8">1000g</text><g transform="matrix(0.9622,0.4045,-1.0224,0.4018,713.9,249.9)" text-anchor="middle"><text class="sf" font-size="11.5" x="-3" y="-15.6" letter-spacing="1.6">FINE</text><text class="sf" font-size="19.5" y="6.4">GOLD</text><path d="M-24.5,14.2 H30.6" stroke-width="0.9" fill="none"/><text font-size="11.6" x="5" y="31.2">999.9</text></g><text transform="matrix(1.0300,0.4729,-1.1355,0.4803,655.7,360.1)" font-size="13.4" text-anchor="middle" y="4.8">1000g</text><g transform="matrix(1.0168,0.4275,-1.0146,0.4283,812.9,291.5)" text-anchor="middle"><text class="sf" font-size="11.5" x="-3" y="-15.6" letter-spacing="1.6">FINE</text><text class="sf" font-size="19.5" y="6.4">GOLD</text><path d="M-24.5,14.2 H30.6" stroke-width="0.9" fill="none"/><text font-size="11.6" x="5" y="31.2">999.9</text></g><text transform="matrix(1.0938,0.5022,-1.1274,0.5145,761.8,408.8)" font-size="13.4" text-anchor="middle" y="4.8">1000g</text><g transform="matrix(1.0761,0.4524,-1.0041,0.4573,917.5,335.4)" text-anchor="middle"><text class="sf" font-size="11.5" x="-3" y="-15.6" letter-spacing="1.6">FINE</text><text class="sf" font-size="19.5" y="6.4">GOLD</text><path d="M-24.5,14.2 H30.6" stroke-width="0.9" fill="none"/><text font-size="11.6" x="5" y="31.2">999.9</text></g><text transform="matrix(1.1637,0.5343,-1.1162,0.5522,874.6,460.6)" font-size="13.4" text-anchor="middle" y="4.8">1000g</text><g transform="matrix(1.1408,0.4796,-0.9906,0.4890,1028.2,382.0)" text-anchor="middle"><text class="sf" font-size="11.5" x="-3" y="-15.6" letter-spacing="1.6">FINE</text><text class="sf" font-size="19.5" y="6.4">GOLD</text><path d="M-24.5,14.2 H30.6" stroke-width="0.9" fill="none"/><text font-size="11.6" x="5" y="31.2">999.9</text></g><text transform="matrix(1.2405,0.5695,-1.1010,0.5937,994.8,515.8)" font-size="13.4" text-anchor="middle" y="4.8">1000g</text><g transform="matrix(1.2114,0.5093,-0.9736,0.5238,1145.8,431.4)" text-anchor="middle"><text class="sf" font-size="11.5" x="-3" y="-15.6" letter-spacing="1.6">FINE</text><text class="sf" font-size="19.5" y="6.4">GOLD</text><path d="M-24.5,14.2 H30.6" stroke-width="0.9" fill="none"/><text font-size="11.6" x="5" y="31.2">999.9</text></g><text transform="matrix(1.3252,0.6084,-1.0813,0.6396,1123.0,574.6)" font-size="13.4" text-anchor="middle" y="4.8">1000g</text><g transform="matrix(1.2889,0.5419,-0.9524,0.5621,1270.8,484.0)" text-anchor="middle"><text class="sf" font-size="11.5" x="-3" y="-15.6" letter-spacing="1.6">FINE</text><text class="sf" font-size="19.5" y="6.4">GOLD</text><path d="M-24.5,14.2 H30.6" stroke-width="0.9" fill="none"/><text font-size="11.6" x="5" y="31.2">999.9</text></g><text transform="matrix(0.7470,0.3001,-0.9811,0.2829,376.6,48.3)" font-size="13.4" text-anchor="middle" y="4.8">1000g</text><g transform="matrix(0.7447,0.2777,-0.8972,0.2583,514.4,7.3)" text-anchor="middle"><text class="sf" font-size="11.5" x="-3" y="-15.6" letter-spacing="1.6">FINE</text><text class="sf" font-size="19.5" y="6.4">GOLD</text><path d="M-24.5,14.2 H30.6" stroke-width="0.9" fill="none"/><text font-size="11.6" x="5" y="31.2">999.9</text></g><text transform="matrix(0.7831,0.3146,-0.9805,0.2993,453.1,79.0)" font-size="13.4" text-anchor="middle" y="4.8">1000g</text><g transform="matrix(0.7790,0.2905,-0.8947,0.2727,590.5,35.7)" text-anchor="middle"><text class="sf" font-size="11.5" x="-3" y="-15.6" letter-spacing="1.6">FINE</text><text class="sf" font-size="19.5" y="6.4">GOLD</text><path d="M-24.5,14.2 H30.6" stroke-width="0.9" fill="none"/><text font-size="11.6" x="5" y="31.2">999.9</text></g><text transform="matrix(0.8220,0.3302,-0.9786,0.3170,533.3,111.3)" font-size="13.4" text-anchor="middle" y="4.8">1000g</text><g transform="matrix(0.8158,0.3042,-0.8911,0.2882,670.2,65.5)" text-anchor="middle"><text class="sf" font-size="11.5" x="-3" y="-15.6" letter-spacing="1.6">FINE</text><text class="sf" font-size="19.5" y="6.4">GOLD</text><path d="M-24.5,14.2 H30.6" stroke-width="0.9" fill="none"/><text font-size="11.6" x="5" y="31.2">999.9</text></g><text transform="matrix(0.8637,0.3470,-0.9753,0.3361,617.6,145.1)" font-size="13.4" text-anchor="middle" y="4.8">1000g</text><g transform="matrix(0.8553,0.3189,-0.8861,0.3049,753.8,96.6)" text-anchor="middle"><text class="sf" font-size="11.5" x="-3" y="-15.6" letter-spacing="1.6">FINE</text><text class="sf" font-size="19.5" y="6.4">GOLD</text><path d="M-24.5,14.2 H30.6" stroke-width="0.9" fill="none"/><text font-size="11.6" x="5" y="31.2">999.9</text></g><text transform="matrix(0.9088,0.3651,-0.9704,0.3569,706.2,180.7)" font-size="13.4" text-anchor="middle" y="4.8">1000g</text><g transform="matrix(0.8977,0.3348,-0.8796,0.3229,841.4,129.3)" text-anchor="middle"><text class="sf" font-size="11.5" x="-3" y="-15.6" letter-spacing="1.6">FINE</text><text class="sf" font-size="19.5" y="6.4">GOLD</text><path d="M-24.5,14.2 H30.6" stroke-width="0.9" fill="none"/><text font-size="11.6" x="5" y="31.2">999.9</text></g><text transform="matrix(0.9574,0.3846,-0.9635,0.3793,799.4,218.2)" font-size="13.4" text-anchor="middle" y="4.8">1000g</text><g transform="matrix(0.9433,0.3518,-0.8712,0.3424,933.4,163.6)" text-anchor="middle"><text class="sf" font-size="11.5" x="-3" y="-15.6" letter-spacing="1.6">FINE</text><text class="sf" font-size="19.5" y="6.4">GOLD</text><path d="M-24.5,14.2 H30.6" stroke-width="0.9" fill="none"/><text font-size="11.6" x="5" y="31.2">999.9</text></g><text transform="matrix(1.0101,0.4058,-0.9545,0.4037,897.8,257.7)" font-size="13.4" text-anchor="middle" y="4.8">1000g</text><g transform="matrix(0.9925,0.3701,-0.8608,0.3634,1030.2,199.7)" text-anchor="middle"><text class="sf" font-size="11.5" x="-3" y="-15.6" letter-spacing="1.6">FINE</text><text class="sf" font-size="19.5" y="6.4">GOLD</text><path d="M-24.5,14.2 H30.6" stroke-width="0.9" fill="none"/><text font-size="11.6" x="5" y="31.2">999.9</text></g><text transform="matrix(1.0672,0.4287,-0.9430,0.4303,1001.6,299.4)" font-size="13.4" text-anchor="middle" y="4.8">1000g</text><g transform="matrix(1.0457,0.3899,-0.8481,0.3863,1132.1,237.7)" text-anchor="middle"><text class="sf" font-size="11.5" x="-3" y="-15.6" letter-spacing="1.6">FINE</text><text class="sf" font-size="19.5" y="6.4">GOLD</text><path d="M-24.5,14.2 H30.6" stroke-width="0.9" fill="none"/><text font-size="11.6" x="5" y="31.2">999.9</text></g><text transform="matrix(1.1293,0.4537,-0.9286,0.4594,1111.4,343.5)" font-size="13.4" text-anchor="middle" y="4.8">1000g</text><g transform="matrix(1.1032,0.4114,-0.8327,0.4111,1239.5,277.7)" text-anchor="middle"><text class="sf" font-size="11.5" x="-3" y="-15.6" letter-spacing="1.6">FINE</text><text class="sf" font-size="19.5" y="6.4">GOLD</text><path d="M-24.5,14.2 H30.6" stroke-width="0.9" fill="none"/><text font-size="11.6" x="5" y="31.2">999.9</text></g><text transform="matrix(0.8128,0.2916,-0.8468,0.2743,745.0,42.7)" font-size="13.4" text-anchor="middle" y="4.8">1000g</text><g transform="matrix(0.8035,0.2703,-0.7761,0.2510,863.7,2.9)" text-anchor="middle"><text class="sf" font-size="11.5" x="-3" y="-15.6" letter-spacing="1.6">FINE</text><text class="sf" font-size="19.5" y="6.4">GOLD</text><path d="M-24.5,14.2 H30.6" stroke-width="0.9" fill="none"/><text font-size="11.6" x="5" y="31.2">999.9</text></g><text transform="matrix(0.8511,0.3053,-0.8410,0.2899,828.2,72.5)" font-size="13.4" text-anchor="middle" y="4.8">1000g</text><g transform="matrix(0.8397,0.2825,-0.7693,0.2647,945.8,30.6)" text-anchor="middle"><text class="sf" font-size="11.5" x="-3" y="-15.6" letter-spacing="1.6">FINE</text><text class="sf" font-size="19.5" y="6.4">GOLD</text><path d="M-24.5,14.2 H30.6" stroke-width="0.9" fill="none"/><text font-size="11.6" x="5" y="31.2">999.9</text></g><text transform="matrix(0.8922,0.3201,-0.8337,0.3066,915.3,103.8)" font-size="13.4" text-anchor="middle" y="4.8">1000g</text><g transform="matrix(0.8784,0.2955,-0.7611,0.2794,1031.7,59.4)" text-anchor="middle"><text class="sf" font-size="11.5" x="-3" y="-15.6" letter-spacing="1.6">FINE</text><text class="sf" font-size="19.5" y="6.4">GOLD</text><path d="M-24.5,14.2 H30.6" stroke-width="0.9" fill="none"/><text font-size="11.6" x="5" y="31.2">999.9</text></g><text transform="matrix(0.9364,0.3359,-0.8247,0.3247,1006.7,136.6)" font-size="13.4" text-anchor="middle" y="4.8">1000g</text><g transform="matrix(0.9198,0.3094,-0.7512,0.2952,1121.6,89.7)" text-anchor="middle"><text class="sf" font-size="11.5" x="-3" y="-15.6" letter-spacing="1.6">FINE</text><text class="sf" font-size="19.5" y="6.4">GOLD</text><path d="M-24.5,14.2 H30.6" stroke-width="0.9" fill="none"/><text font-size="11.6" x="5" y="31.2">999.9</text></g><text transform="matrix(0.9839,0.3529,-0.8136,0.3442,1102.7,171.0)" font-size="13.4" text-anchor="middle" y="4.8">1000g</text><g transform="matrix(0.9643,0.3244,-0.7396,0.3122,1215.7,121.4)" text-anchor="middle"><text class="sf" font-size="11.5" x="-3" y="-15.6" letter-spacing="1.6">FINE</text><text class="sf" font-size="19.5" y="6.4">GOLD</text><path d="M-24.5,14.2 H30.6" stroke-width="0.9" fill="none"/><text font-size="11.6" x="5" y="31.2">999.9</text></g><text transform="matrix(0.8716,0.2835,-0.7240,0.2663,1096.0,37.3)" font-size="13.4" text-anchor="middle" y="4.8">1000g</text><g transform="matrix(0.8563,0.2633,-0.6650,0.2442,1197.1,-1.3)" text-anchor="middle"><text class="sf" font-size="11.5" x="-3" y="-15.6" letter-spacing="1.6">FINE</text><text class="sf" font-size="19.5" y="6.4">GOLD</text><path d="M-24.5,14.2 H30.6" stroke-width="0.9" fill="none"/><text font-size="11.6" x="5" y="31.2">999.9</text></g></g>
<linearGradient id="mVg" gradientUnits="userSpaceOnUse" x1="0" y1="0" x2="0" y2="873"><stop offset="0.0630" stop-color="#fff" stop-opacity="0"/><stop offset="0.1145" stop-color="#fff" stop-opacity="0.15"/><stop offset="0.1718" stop-color="#fff" stop-opacity="0.55"/><stop offset="0.2520" stop-color="#fff" stop-opacity="0.8"/><stop offset="0.3436" stop-color="#fff" stop-opacity="1.0"/><stop offset="0.5498" stop-color="#fff" stop-opacity="1.0"/><stop offset="0.6186" stop-color="#fff" stop-opacity="0.8"/><stop offset="0.6758" stop-color="#fff" stop-opacity="0.5"/><stop offset="0.7331" stop-color="#fff" stop-opacity="0.2"/><stop offset="0.7904" stop-color="#fff" stop-opacity="0"/></linearGradient>
<linearGradient id="mHg" gradientUnits="userSpaceOnUse" x1="0" y1="0" x2="1080" y2="0"><stop offset="0.0185" stop-color="#fff" stop-opacity="0"/><stop offset="0.0926" stop-color="#fff" stop-opacity="0.24"/><stop offset="0.1759" stop-color="#fff" stop-opacity="0.53"/><stop offset="0.3241" stop-color="#fff" stop-opacity="0.88"/><stop offset="0.5185" stop-color="#fff" stop-opacity="1"/><stop offset="0.6944" stop-color="#fff" stop-opacity="0.9"/><stop offset="0.8519" stop-color="#fff" stop-opacity="0.6"/><stop offset="0.9259" stop-color="#fff" stop-opacity="0.3"/><stop offset="0.9815" stop-color="#fff" stop-opacity="0"/></linearGradient>
<mask id="mV" maskUnits="userSpaceOnUse" x="0" y="0" width="1080" height="873"><rect width="1080" height="873" fill="url(#mVg)"/></mask>
<mask id="mH" maskUnits="userSpaceOnUse" x="0" y="0" width="1080" height="873"><rect width="1080" height="873" fill="url(#mHg)"/></mask>
<mask id="notTops" maskUnits="userSpaceOnUse" x="0" y="0" width="1080" height="873"><rect width="1080" height="873" fill="#fff"/><use href="#phTops" fill="#000"/></mask>
<clipPath id="frontClip"><path d="M263.5,196.9 H469 V765 H263.5 Z M605.3,189.2 H811 V765 H605.3 Z"/></clipPath>
<clipPath id="barsClip">
<path d="M263.5,196.9 H469 L509,163.9 V731 L469,765.4 H263.5 Z M605.3,189.2 H811 L851,156.2 V731 L811,765.4 H605.3 Z"/>
</clipPath>
<linearGradient id="fadeV" gradientUnits="userSpaceOnUse" x1="0" y1="190" x2="0" y2="765">
<stop offset="0" stop-color="#fff"/><stop offset="0.5" stop-color="#fff"/><stop offset="0.86" stop-color="#fff" stop-opacity="0"/>
</linearGradient>
<mask id="fadeB" maskUnits="userSpaceOnUse" x="0" y="0" width="1080" height="873"><rect width="1080" height="873" fill="url(#fadeV)"/></mask>
</defs>
<rect width="1080" height="873" fill="#ffffff"/>

<g mask="url(#mV)"><g mask="url(#mH)">
<rect width="1080" height="873" fill="#ecdbcf"/>
<use href="#phSides" fill="#f2e5d9"/>
<use href="#phGaps" fill="#eee0d4"/>
<use href="#phEnds" fill="#f0e2d7"/>
<use href="#phTops" fill="#f6eddb"/>
<use href="#phHl" stroke="#fcf8ec" stroke-width="1.6" opacity="0.8"/>
<use href="#phTxt" fill="#ddd2d6" stroke="#ddd2d6" opacity="0.75"/>
</g></g>
<polygon points="109.6,765 143.6,731 1000,731 965.4,765" fill="url(#gFloor)"/>
<g stroke="#8b5a1e" stroke-width="1.6" fill="none">
<path d="M109.6,128.89999999999998 V764.7"/>
<path d="M964.6,748 V764.7"/>
<path d="M109.6,658.9 H131.3"/>
<path d="M109.6,553.0 H131.3"/>
<path d="M109.6,447.2 H131.3"/>
<path d="M109.6,341.4 H131.3"/>
<path d="M109.6,235.5 H131.3"/>
<path d="M109.6,129.7 H131.3"/>
</g>
<text transform="translate(90.3,773.6) scale(0.94,1)" font-size="30" text-anchor="end" fill="#8b5a1e">0</text>
<text transform="translate(90.3,667.5) scale(0.94,1)" font-size="30" text-anchor="end" fill="#8b5a1e">50</text>
<text transform="translate(90.3,561.8) scale(0.94,1)" font-size="30" text-anchor="end" fill="#8b5a1e">100</text>
<text transform="translate(90.3,456.1) scale(0.94,1)" font-size="30" text-anchor="end" fill="#8b5a1e">150</text>
<text transform="translate(90.3,350.8) scale(0.94,1)" font-size="30" text-anchor="end" fill="#8b5a1e">200</text>
<text transform="translate(90.3,247.3) scale(0.94,1)" font-size="30" text-anchor="end" fill="#8b5a1e">250</text>
<text transform="translate(90.3,141.5) scale(0.94,1)" font-size="30" text-anchor="end" fill="#8b5a1e">300</text>
<text x="115.8" y="101.2" font-size="27" class="b" text-anchor="middle" fill="#8b5a1e">吨</text>
<g>
<rect x="263.5" y="196.9" width="205.5" height="567.7" fill="url(#gFront)"/>
<rect x="263.5" y="196.9" width="205.5" height="567.7" fill="url(#gFrontM)" mask="url(#mV)"/>
<polygon points="469,196.9 509,163.9 509,731 469,765.4" fill="url(#gSide)"/>
<polygon points="263.5,196.9 303.5,163.9 509,163.9 469,196.9" fill="url(#gTop)"/>
</g>
<g>
<rect x="605.3" y="189.2" width="205.7" height="575.4" fill="url(#gFront)"/>
<rect x="605.3" y="189.2" width="205.7" height="575.4" fill="url(#gFrontM)" mask="url(#mV)"/>
<polygon points="811,189.2 851,156.2 851,731 811,765.4" fill="url(#gSide)"/>
<polygon points="605.3,189.2 645.3,156.2 851,156.2 811,189.2" fill="url(#gTop)"/>
</g>
<path d="M108.8,764.7 H965.4" stroke="#8b5a1e" stroke-width="1.6" fill="none"/>
<g clip-path="url(#barsClip)"><g mask="url(#mV)">
<rect x="260" y="150" width="600" height="620" fill="#c8641e" opacity="0.14" mask="url(#notTops)"/>
<use href="#phGaps" fill="#c8641e" opacity="0.07"/>
<use href="#phHl" stroke="#f3eda6" stroke-width="1.6" opacity="0.22" clip-path="url(#frontClip)"/>
<use href="#phTxt" fill="#c08a3a" stroke="#c08a3a" opacity="0.32"/>
</g></g>
<g filter="url(#sh)">
<path d="M307.7,79 H464.4 Q467.4,79 467.4,82 V122.8 Q467.4,125.8 464.4,125.8 H393.8 L386.0,138.4 L378.2,125.8 H307.7 Q304.7,125.8 304.7,122.8 V82 Q304.7,79 307.7,79 Z" fill="url(#gTag)"/>
</g>
<text transform="translate(386.2,117.3) scale(0.965,1)" font-size="42.2" class="b" text-anchor="middle" fill="#fff">268.086</text>
<g filter="url(#sh)">
<path d="M649.7,71.9 H806.2 Q809.2,71.9 809.2,74.9 V115.3 Q809.2,118.3 806.2,118.3 H735.8 L728.0,130.9 L720.2,118.3 H649.7 Q646.7,118.3 646.7,115.3 V74.9 Q646.7,71.9 649.7,71.9 Z" fill="url(#gTag)"/>
</g>
<text transform="translate(728.2,109.8) scale(0.965,1)" font-size="42.2" class="b" text-anchor="middle" fill="#fff">271.782</text>
<polygon points="579.8,170.2 588,184 582.6,184 582.6,216 577,216 577,184 571.8,184" fill="#e67817"/>
<g stroke="#8b5a1e" fill="none"><path d="M549.7,189.2 H567.5 M549.7,197.1 H567.5" stroke-width="1.9"/><path d="M558.6,189.2 V197.1" stroke-width="1.4"/></g>
<text x="622.3" y="226.3" font-size="25.5" class="b" fill="#7d5126">同比增长</text>
<text x="622.4" y="264.6" font-size="36" fill="#7d5126" stroke="#7d5126" stroke-width="1" stroke-linejoin="round">1.39%</text>
<text x="366.2" y="808.9" font-size="29" class="b" text-anchor="middle" fill="#8b5a1e"><tspan font-size="30.8">2024 </tspan>年前三季度</text>
<text x="366.2" y="840.7" font-size="29" class="b" text-anchor="middle" fill="#8b5a1e">国内原料黄金产量</text>
<text x="710.0" y="808.9" font-size="29" class="b" text-anchor="middle" fill="#8b5a1e"><tspan font-size="30.8">2025 </tspan>年前三季度</text>
<text x="710.0" y="840.7" font-size="29" class="b" text-anchor="middle" fill="#8b5a1e">国内原料黄金产量</text>
<g opacity="0.3">
<g fill="#000" opacity="0.78"><ellipse cx="733.6" cy="822" rx="12.6" ry="10.6"/><ellipse cx="746.6" cy="834" rx="11.6" ry="9.8" stroke="#fff" stroke-width="1.6"/><path d="M750,841.5 L755.5,846 L754.5,839.5 Z"/></g>
<circle cx="737.2" cy="820" r="1.5" fill="#fff"/>
<text y="840.6" font-size="29" fill="#000"><tspan x="770.1 800.1 830.1">公众号</tspan> <tspan x="867.3" y="845.2" font-size="46">·</tspan> <tspan x="895.6 925.6 955.6 985.6 1015.6" y="840.6">中国黄金报</tspan></text>
</g>
</svg>
</body>
</html>
